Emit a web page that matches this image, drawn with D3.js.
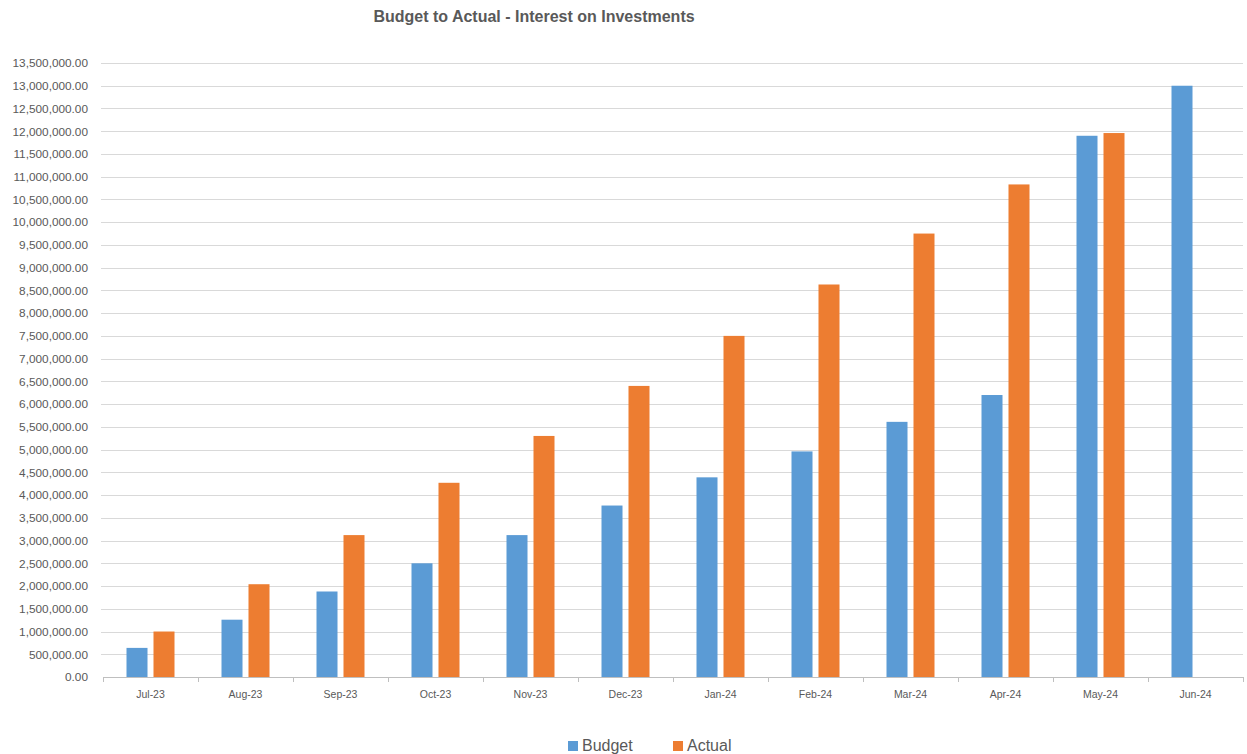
<!DOCTYPE html>
<html>
<head>
<meta charset="utf-8">
<script src="https://cdn.jsdelivr.net/npm/d3@7"></script>
<style>
  html, body { margin: 0; padding: 0; background: #fff; }
  svg { display: block; font-family: "Liberation Sans", Arial, sans-serif; }
</style>
</head>
<body>
<svg id="chart" width="1247" height="754"></svg>
<script>
// Monthly cumulative interest on investments, FY Jul-23 .. Jun-24
const months = ["Jul-23","Aug-23","Sep-23","Oct-23","Nov-23","Dec-23",
                "Jan-24","Feb-24","Mar-24","Apr-24","May-24","Jun-24"];
const budget = [640000, 1260000, 1880000, 2500000, 3120000, 3770000,
                4390000, 4960000, 5610000, 6200000, 11900000, 13000000];
const actual = [1000000, 2040000, 3120000, 4270000, 5300000, 6400000,
                7500000, 8630000, 9750000, 10830000, 11960000, null];
const seriesNames = ["Budget", "Actual"];
const yTicks = d3.range(0, 13500001, 500000);
const chartTitle = "Budget to Actual - Interest on Investments";

const colors = { Budget: "#5B9BD5", Actual: "#ED7D31" };
const textColor = "#595959";

const svg = d3.select("#chart");
const plot = { left: 103, right: 1243, top: 63, bottom: 677 };

const y = d3.scaleLinear().domain([0, 13500000]).range([plot.bottom, plot.top]);
const x0 = d3.scaleBand().domain(months).range([plot.left, plot.right]).padding(0);
const groupW = 48;
const x1 = d3.scaleBand().domain(seriesNames)
  .range([(x0.bandwidth() - groupW) / 2, (x0.bandwidth() + groupW) / 2])
  .paddingInner(0.222).paddingOuter(0);

// title
svg.append("text")
  .attr("x", 534).attr("y", 22)
  .attr("text-anchor", "middle")
  .attr("font-size", 16).attr("font-weight", "bold")
  .attr("fill", textColor)
  .text(chartTitle);

// horizontal gridlines
svg.append("g").selectAll("line").data(yTicks.filter(d => d > 0)).join("line")
  .attr("x1", plot.left - 2).attr("x2", plot.right)
  .attr("y1", d => Math.round(y(d)) + 0.5).attr("y2", d => Math.round(y(d)) + 0.5)
  .attr("stroke", "#D9D9D9").attr("stroke-width", 1);

// y axis labels
const yAxis = d3.axisLeft(y).tickValues(yTicks)
  .tickFormat(d3.format(",.2f")).tickSize(0).tickPadding(14);
const gy = svg.append("g").attr("transform", `translate(${plot.left - 1},0)`).call(yAxis);
gy.select(".domain").remove();
gy.selectAll("text").attr("fill", textColor).attr("font-size", 11.8)
  .attr("font-family", "Liberation Sans, Arial, sans-serif");

// bars
const rows = months.map((m, i) => ({ month: m, Budget: budget[i], Actual: actual[i] }));
const groups = svg.append("g").selectAll("g").data(rows).join("g")
  .attr("transform", d => `translate(${x0(d.month)},0)`);
groups.selectAll("rect")
  .data(d => seriesNames.filter(s => d[s] != null).map(s => ({ key: s, value: d[s] })))
  .join("rect")
  .attr("x", d => x1(d.key))
  .attr("width", x1.bandwidth())
  .attr("y", d => y(d.value))
  .attr("height", d => y(0) - y(d.value))
  .attr("fill", d => colors[d.key]);

// x axis
const xAxis = d3.axisBottom(x0).tickSize(0).tickPadding(14);
const gx = svg.append("g").attr("transform", `translate(0,${plot.bottom})`).call(xAxis);
gx.select(".domain").attr("stroke", "#BFBFBF").attr("d", `M${plot.left},0.5H${plot.right}`);
gx.selectAll("text").attr("fill", textColor).attr("font-size", 10.5)
  .attr("font-family", "Liberation Sans, Arial, sans-serif");
// category separator ticks
gx.append("g").selectAll("line")
  .data(months.map(m => x0(m)).concat([plot.right]))
  .join("line")
  .attr("x1", d => Math.round(d) + 0.5).attr("x2", d => Math.round(d) + 0.5)
  .attr("y1", 0).attr("y2", 5)
  .attr("stroke", "#BFBFBF");

// legend
const legend = svg.append("g").attr("transform", "translate(568,741)");
const legendX = { Budget: 0, Actual: 105 };
seriesNames.forEach(s => {
  const g = legend.append("g").attr("transform", `translate(${legendX[s]},0)`);
  g.append("rect").attr("width", 10).attr("height", 10).attr("fill", colors[s]);
  g.append("text").attr("x", 14).attr("y", 10)
    .attr("font-size", 16).attr("fill", textColor).text(s);
});
</script>
</body>
</html>
